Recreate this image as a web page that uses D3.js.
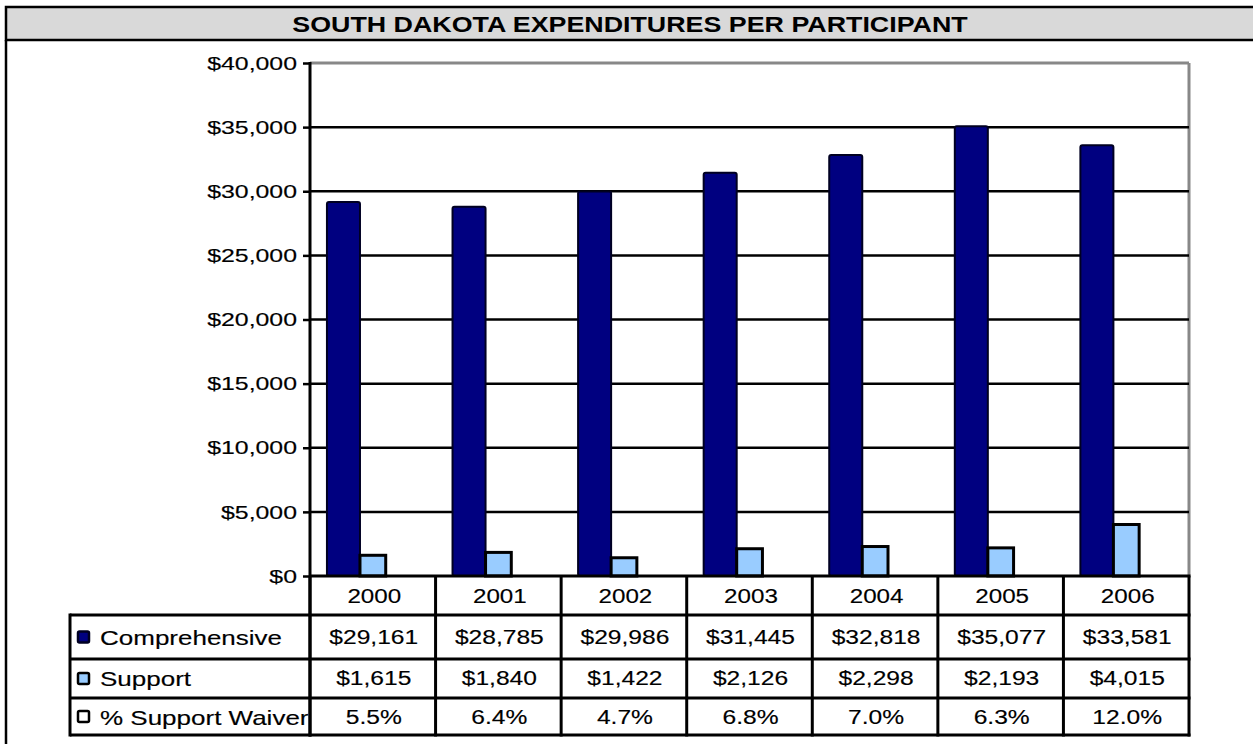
<!DOCTYPE html>
<html>
<head>
<meta charset="utf-8">
<script src="https://cdn.jsdelivr.net/npm/d3@7/dist/d3.min.js"></script>
<style>
  html, body { margin: 0; padding: 0; background: #ffffff; }
  svg { display: block; font-family: "Liberation Sans", Arial, sans-serif; }
  .txt { stroke: #000; stroke-width: 0.15px; }
</style>
</head>
<body>
<svg id="chart" width="1253" height="744"></svg>
<script>
// ---- data ----
const title = "SOUTH DAKOTA EXPENDITURES PER PARTICIPANT";
const years = ["2000", "2001", "2002", "2003", "2004", "2005", "2006"];
const comprehensive = [29161, 28785, 29986, 31445, 32818, 35077, 33581];
const support = [1615, 1840, 1422, 2126, 2298, 2193, 4015];
const waiverPct = [5.5, 6.4, 4.7, 6.8, 7.0, 6.3, 12.0];
const seriesNames = ["Comprehensive", "Support", "% Support Waiver"];
const yTicks = [0, 5000, 10000, 15000, 20000, 25000, 30000, 35000, 40000];

// ---- layout ----
const svg = d3.select("#chart");
const plotL = 310, plotR = 1189, plotT = 63, plotB = 576;
const rowLines = [576, 615, 659, 698, 735];
const tableL = 70;
const colors = { comp: "#000080", supp: "#99ccff", waiver: "#ffffff" };

const x = d3.scaleBand().domain(years).range([plotL, plotR]).paddingInner(0).paddingOuter(0);
const y = d3.scaleLinear().domain([0, 40000]).range([plotB, plotT]);
const bw = x.bandwidth();

function stretchText(g, txt, tx, ty, opts) {
  return g.append("text")
    .attr("class", opts.weight === "bold" ? null : "txt")
    .attr("transform", `translate(${tx},${ty}) scale(${opts.sx || 1},1)`)
    .attr("text-anchor", opts.anchor || "start")
    .attr("font-size", opts.size || 20)
    .attr("font-weight", opts.weight || "normal")
    .attr("fill", "#000")
    .text(txt);
}

// ---- title bar & frame ----
svg.append("rect").attr("x", 6).attr("y", 7).attr("width", 1262).attr("height", 33)
  .attr("fill", "#d9d9d9").attr("stroke", "#000").attr("stroke-width", 2.5);
svg.append("line").attr("x1", 6).attr("x2", 6).attr("y1", 40).attr("y2", 760)
  .attr("stroke", "#000").attr("stroke-width", 2.5);
stretchText(svg, title, 630, 32, { anchor: "middle", size: 22, weight: "bold", sx: 1.22 });

// ---- plot frame (gray) ----
svg.append("line").attr("x1", plotL).attr("x2", plotR).attr("y1", plotT).attr("y2", plotT)
  .attr("stroke", "#888").attr("stroke-width", 3);
svg.append("line").attr("x1", plotR).attr("x2", plotR).attr("y1", plotT).attr("y2", plotB)
  .attr("stroke", "#888").attr("stroke-width", 3);

// ---- gridlines ----
svg.append("g").selectAll("line").data(yTicks.filter(d => d > 0 && d < 40000)).join("line")
  .attr("x1", plotL).attr("x2", plotR)
  .attr("y1", d => y(d)).attr("y2", d => y(d))
  .attr("stroke", "#000").attr("stroke-width", 2.5);

// ---- y axis ----
const yAxis = svg.append("g").attr("transform", `translate(${plotL},0)`)
  .call(d3.axisLeft(y).tickValues(yTicks).tickFormat(d3.format("$,")).tickSize(7).tickPadding(0));
yAxis.select(".domain").remove();
yAxis.selectAll(".tick line").attr("stroke", "#000").attr("stroke-width", 2.5);
yAxis.selectAll(".tick text")
  .attr("class", "txt")
  .attr("x", 0).attr("dy", "0.35em")
  .attr("transform", "translate(-13,0) scale(1.42,1)")
  .attr("font-size", 17.5).attr("font-family", "Liberation Sans, Arial, sans-serif")
  .attr("fill", "#000");

// ---- bars ----
const compOff = 0.135 * bw, compW = 0.263 * bw, suppW = 0.205 * bw;
svg.append("g").selectAll("rect").data(years).join("rect")
  .attr("x", d => x(d) + compOff)
  .attr("y", (d, i) => y(comprehensive[i]))
  .attr("width", compW)
  .attr("height", (d, i) => y(0) - y(comprehensive[i]))
  .attr("rx", 2)
  .attr("fill", colors.comp).attr("stroke", "#000022").attr("stroke-width", 2);
svg.append("g").selectAll("rect").data(years).join("rect")
  .attr("x", d => x(d) + compOff + compW)
  .attr("y", (d, i) => y(support[i]))
  .attr("width", suppW)
  .attr("height", (d, i) => y(0) - y(support[i]))
  .attr("fill", colors.supp).attr("stroke", "#000").attr("stroke-width", 3);

// ---- data table ----
const table = svg.append("g");

// clip for row labels
svg.append("clipPath").attr("id", "labclip").append("rect")
  .attr("x", tableL).attr("y", rowLines[1]).attr("width", plotL - tableL - 1).attr("height", rowLines[4] - rowLines[1]);
const labels = table.append("g").attr("clip-path", "url(#labclip)");

const rows = [
  { name: seriesNames[0], vals: comprehensive.map(d3.format("$,")), base: 645, key: colors.comp, keyStroke: "#000022" },
  { name: seriesNames[1], vals: support.map(d3.format("$,")), base: 686, key: colors.supp, keyStroke: "#000" },
  { name: seriesNames[2], vals: waiverPct.map(v => d3.format(".1f")(v) + "%"), base: 725, key: colors.waiver, keyStroke: "#000" }
];
rows.forEach((r, ri) => {
  const midY = (rowLines[ri + 1] + rowLines[ri + 2]) / 2;
  table.append("rect").attr("x", 78).attr("y", midY - 5.5).attr("width", 11).attr("height", 11)
    .attr("rx", 1.5)
    .attr("fill", r.key).attr("stroke", r.keyStroke).attr("stroke-width", 2.5);
  stretchText(labels, r.name, 100, r.base, { size: 20, sx: 1.3 });
  years.forEach((yr, i) => {
    stretchText(table, r.vals[i], x(yr) + bw / 2 + 1, r.base - 1, { anchor: "middle", size: 20.5, sx: 1.2 });
  });
});

// horizontal lines
table.append("line").attr("x1", plotL).attr("x2", plotR + 1.5).attr("y1", rowLines[0]).attr("y2", rowLines[0])
  .attr("stroke", "#000").attr("stroke-width", 3);
table.selectAll("line.h").data(rowLines.slice(1)).join("line").attr("class", "h")
  .attr("x1", tableL).attr("x2", plotR + 1.5)
  .attr("y1", d => d).attr("y2", d => d)
  .attr("stroke", "#000").attr("stroke-width", 3);
// vertical lines
table.selectAll("line.v").data(years.map(d => x(d)).concat([plotR])).join("line").attr("class", "v")
  .attr("x1", d => d).attr("x2", d => d)
  .attr("y1", rowLines[0]).attr("y2", rowLines[4] + 1.5)
  .attr("stroke", "#000").attr("stroke-width", 3);
table.append("line").attr("x1", tableL).attr("x2", tableL).attr("y1", rowLines[1] - 1.5).attr("y2", rowLines[4] + 1.5)
  .attr("stroke", "#000").attr("stroke-width", 3);

// ---- left axis line ----
svg.append("line").attr("x1", plotL).attr("x2", plotL).attr("y1", plotT - 1).attr("y2", rowLines[4] + 1.5)
  .attr("stroke", "#000").attr("stroke-width", 3);

// year headers (band axis)
const xAxis = svg.append("g").attr("transform", `translate(0,${rowLines[0]})`)
  .call(d3.axisBottom(x).tickSize(0).tickPadding(0));
xAxis.select(".domain").remove();
xAxis.selectAll(".tick text")
  .attr("class", "txt")
  .attr("y", 0).attr("dy", 0)
  .attr("transform", "translate(1.5,27) scale(1.18,1)")
  .attr("font-size", 20.5).attr("font-family", "Liberation Sans, Arial, sans-serif")
  .attr("fill", "#000");
</script>
</body>
</html>
